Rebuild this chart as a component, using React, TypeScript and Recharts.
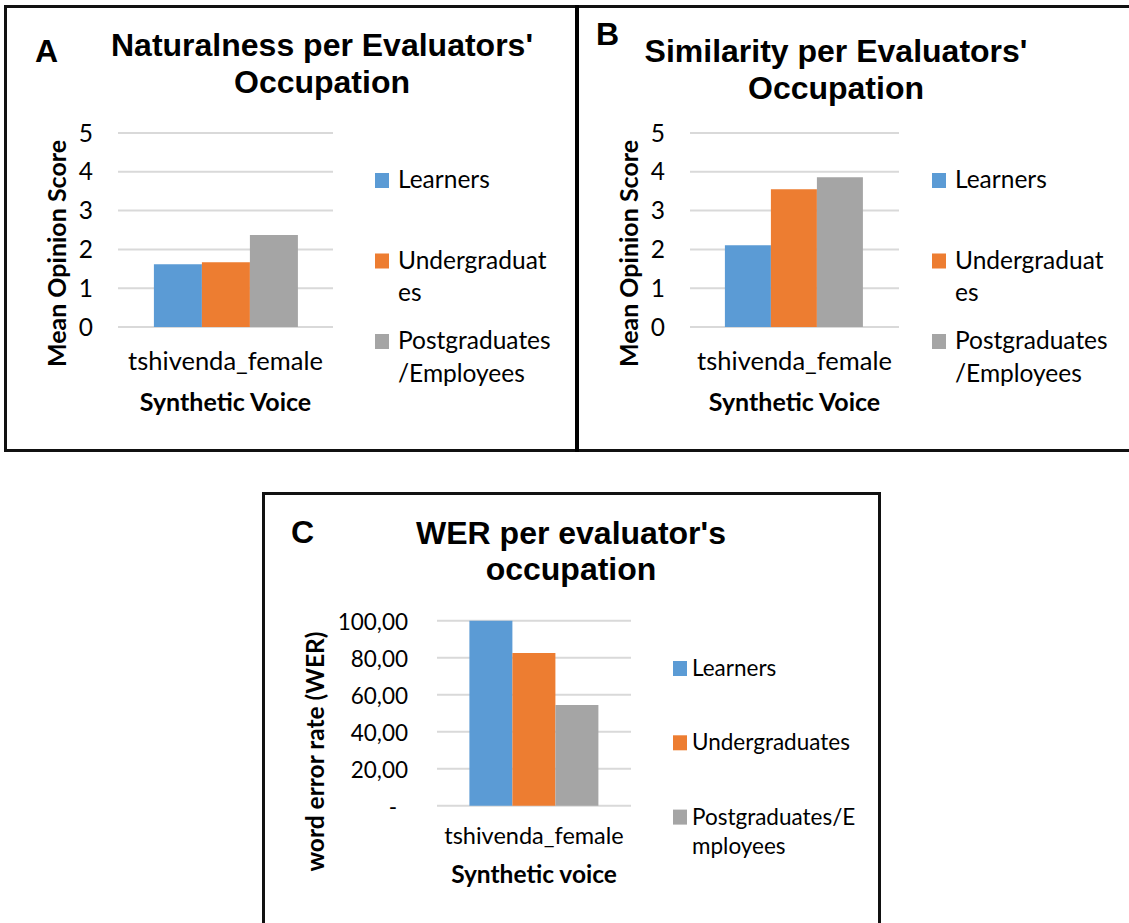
import React from 'react';
import { BarChart, Bar, XAxis, YAxis, CartesianGrid, Legend } from 'recharts';

// category and groups shared by all three panels
const categories = ['tshivenda_female'];
const groups = ['Learners', 'Undergraduates', 'Postgraduates/Employees'];
const groupKeys = ['learners', 'undergrad', 'postgrad'];
const groupColors = ['#5b9bd5', '#ed7d31', '#a5a5a5'];

// mean opinion scores / word error rate per group
const naturalness = [1.62, 1.67, 2.37];
const similarity = [2.11, 3.55, 3.86];
const wer = [100.0, 82.5, 54.4];

const mosTicks = [0, 1, 2, 3, 4, 5];
const werTicks = [0, 20, 40, 60, 80, 100];

// legend text as wrapped in the figure
const legendLinesAB = [['Learners'], ['Undergraduat', 'es'], ['Postgraduates', '/Employees']];
const legendLinesC = [['Learners'], ['Undergraduates'], ['Postgraduates/E', 'mployees']];

const BODY = 'Lato, "Open Sans", sans-serif';
const HEAD = '"Liberation Sans", Arial, sans-serif';

const toRows = (values: number[]) =>
  categories.map((name) => {
    const row: Record<string, any> = { name };
    groupKeys.forEach((k, i) => {
      row[k] = values[i];
    });
    return row;
  });

const fmtMos = (v: number) => String(v);
const fmtWer = (v: number) => (v === 0 ? '-' : v.toFixed(2).replace('.', ','));

type Spec = {
  x: number;
  y: number;
  width: number;
  height: number;
  plot: { left: number; right: number; top: number; bottom: number };
  values: number[];
  domain: [number, number];
  ticks: number[];
  fmt: (v: number) => string;
  zeroShift: number;
  font: number;
  catFont: number;
  tickGap: number;
  tickDy: number;
  catDy: number;
  xTitle: string;
  xTitleY: number;
  yTitle: string;
  yTitleX: number;
  yTitleY: number;
  titleFont: number;
  legendLines: string[][];
  legendX: number;
  legendY: number;
  legendStep: number;
  legendLineH: number;
  legendTextDx: number;
};

const Caption = ({ px, py, text, size, rotate }: any) => (
  <text
    x={px}
    y={py}
    transform={rotate ? `rotate(-90 ${px} ${py})` : undefined}
    textAnchor="middle"
    fontFamily={BODY}
    fontWeight={700}
    fontSize={size}
    fill="#000"
  >
    {text}
  </text>
);

function GroupLegend({ payload, spec }: any) {
  const items = groups.map((g, i) => {
    const entry = (payload || []).find((e: any) => e.value === g);
    return { lines: spec.legendLines[i], color: entry ? entry.color : groupColors[i] };
  });
  return (
    <svg width={260} height={260} style={{ display: 'block', overflow: 'visible' }}>
      {items.map((it, i) => {
        const base = i * spec.legendStep;
        return (
          <g key={i}>
            <rect x={0} y={base - 15} width={14} height={15} fill={it.color} />
            {it.lines.map((ln: string, j: number) => (
              <text
                key={j}
                x={spec.legendTextDx}
                y={base + j * spec.legendLineH}
                fontFamily={BODY}
                fontSize={spec.font}
                fill="#000"
              >
                {ln}
              </text>
            ))}
          </g>
        );
      })}
    </svg>
  );
}

function Panel({ spec }: { spec: Spec }) {
  const data = toRows(spec.values);
  const yw = 100;
  const xh = 100;
  const margin = {
    top: spec.plot.top,
    right: spec.width - spec.plot.right,
    bottom: spec.height - spec.plot.bottom - xh,
    left: spec.plot.left - yw,
  };
  return (
    <div style={{ position: 'absolute', left: spec.x, top: spec.y }}>
      <BarChart
        width={spec.width}
        height={spec.height}
        data={data}
        margin={margin}
        barGap={0}
        barCategoryGap="16.7%"
      >
        <CartesianGrid vertical={false} stroke="#d9d9d9" strokeWidth={2} />
        <XAxis
          dataKey="name"
          height={xh}
          axisLine={false}
          tickLine={false}
          tickSize={0}
          tickMargin={0}
          interval={0}
          tick={(t: any) => (
            <text x={t.x} y={t.y + spec.catDy} textAnchor="middle" fontFamily={BODY} fontSize={spec.catFont} fill="#000">
              {t.payload.value}
            </text>
          )}
          label={<Caption px={(spec.plot.left + spec.plot.right) / 2} py={spec.xTitleY} text={spec.xTitle} size={spec.titleFont} />}
        />
        <YAxis
          width={yw}
          type="number"
          domain={spec.domain}
          ticks={spec.ticks}
          interval={0}
          axisLine={false}
          tickLine={false}
          tickSize={0}
          tickMargin={0}
          tick={(t: any) => (
            <text
              x={t.x - spec.tickGap - (t.payload.value === 0 ? spec.zeroShift : 0)}
              y={t.y + spec.tickDy}
              textAnchor="end"
              fontFamily={BODY}
              fontSize={spec.font}
              fill="#000"
            >
              {spec.fmt(t.payload.value)}
            </text>
          )}
          label={<Caption px={spec.yTitleX} py={spec.yTitleY} text={spec.yTitle} size={spec.titleFont} rotate />}
        />
        <Legend
          layout="vertical"
          align="center"
          verticalAlign="middle"
          wrapperStyle={{ left: spec.legendX, top: spec.legendY, width: 260, height: 260 }}
          content={(props: any) => <GroupLegend payload={props.payload} spec={spec} />}
        />
        {groupKeys.map((k, i) => (
          <Bar key={k} dataKey={k} name={groups[i]} fill={groupColors[i]} isAnimationActive={false} />
        ))}
      </BarChart>
    </div>
  );
}

const panelA: Spec = {
  x: 0,
  y: 0,
  width: 575,
  height: 450,
  plot: { left: 118, right: 333, top: 133, bottom: 327 },
  values: naturalness,
  domain: [0, 5],
  ticks: mosTicks,
  fmt: fmtMos,
  zeroShift: 0,
  font: 24.5,
  catFont: 25.5,
  tickGap: 25,
  tickDy: 8.5,
  catDy: 43,
  xTitle: 'Synthetic Voice',
  xTitleY: 411,
  yTitle: 'Mean Opinion Score',
  yTitleX: 66,
  yTitleY: 253.5,
  titleFont: 25,
  legendLines: legendLinesAB,
  legendX: 375,
  legendY: 188,
  legendStep: 80.5,
  legendLineH: 32.5,
  legendTextDx: 23,
};

const panelB: Spec = {
  ...panelA,
  x: 577,
  width: 552,
  plot: { left: 113, right: 322, top: 133, bottom: 327 },
  values: similarity,
  yTitleX: 61,
  legendX: 355,
};

const panelC: Spec = {
  x: 263,
  y: 493,
  width: 617,
  height: 430,
  plot: { left: 174, right: 368, top: 127.7, bottom: 312.7 },
  values: wer,
  domain: [0, 100],
  ticks: werTicks,
  fmt: fmtWer,
  zeroShift: 11,
  font: 22.5,
  catFont: 23.5,
  tickGap: 29,
  tickDy: 9,
  catDy: 38,
  xTitle: 'Synthetic voice',
  xTitleY: 390,
  yTitle: 'word error rate (WER)',
  yTitleX: 61,
  yTitleY: 258.5,
  titleFont: 24.5,
  legendLines: legendLinesC,
  legendX: 410,
  legendY: 183,
  legendStep: 74.3,
  legendLineH: 29,
  legendTextDx: 19,
};

const headStyle = { fontFamily: HEAD, fontWeight: 700, fontSize: 32, fill: '#000' } as const;

export default function App() {
  return (
    <div style={{ position: 'absolute', left: 0, top: 0, width: 1129, height: 923, background: '#fff', overflow: 'hidden' }}>
      <div style={{ position: 'absolute', left: 4, top: 5, width: 1140, height: 447, border: '3px solid #111', boxSizing: 'border-box' }} />
      <div style={{ position: 'absolute', left: 575, top: 5, width: 4, height: 447, background: '#000' }} />
      <div style={{ position: 'absolute', left: 262, top: 492, width: 619, height: 500, border: '3px solid #111', boxSizing: 'border-box' }} />
      <Panel spec={panelA} />
      <Panel spec={panelB} />
      <Panel spec={panelC} />
      <svg width={1129} height={923} style={{ position: 'absolute', left: 0, top: 0, pointerEvents: 'none' }}>
        <text x={35} y={62} {...headStyle}>A</text>
        <text x={322} y={56} textAnchor="middle" {...headStyle}>Naturalness per Evaluators'</text>
        <text x={322} y={93} textAnchor="middle" {...headStyle}>Occupation</text>
        <text x={596} y={45} {...headStyle}>B</text>
        <text x={836} y={62} textAnchor="middle" {...headStyle}>Similarity per Evaluators'</text>
        <text x={836} y={99} textAnchor="middle" {...headStyle}>Occupation</text>
        <text x={291} y={543} {...headStyle}>C</text>
        <text x={571} y={544} textAnchor="middle" {...headStyle}>WER per evaluator's</text>
        <text x={571} y={580} textAnchor="middle" {...headStyle}>occupation</text>
      </svg>
    </div>
  );
}
